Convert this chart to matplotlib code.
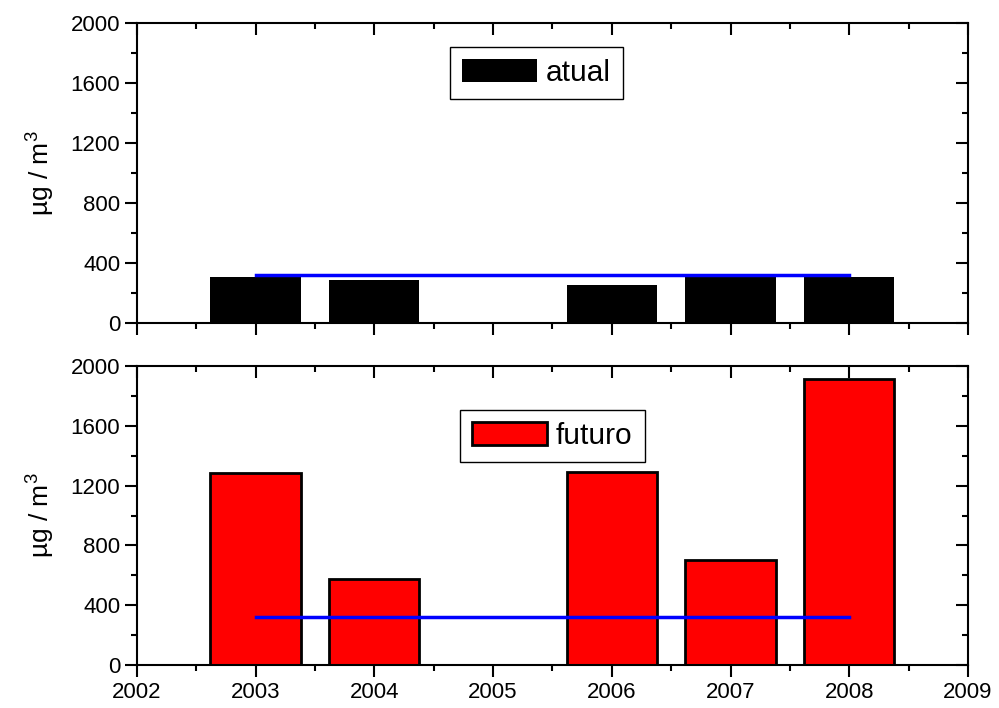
import matplotlib
matplotlib.use("Agg")
import matplotlib.pyplot as plt
from matplotlib.ticker import MultipleLocator

plt.rcParams["font.family"] = ["Liberation Sans", "DejaVu Sans"]
plt.rcParams["mathtext.default"] = "regular"

anos = [2003, 2004, 2006, 2007, 2008]
atual = [305, 287, 253, 305, 305]
futuro = [1283, 573, 1290, 700, 1910]
limite = 320
limite_anos = [2003, 2008]

fig = plt.figure(figsize=(9.99, 7.08), dpi=100)
ax1 = fig.add_axes([0.137, 0.544, 0.832, 0.4235])
ax2 = fig.add_axes([0.137, 0.0607, 0.832, 0.4223])

ax1.bar(anos, atual, width=0.76, color="black", label="atual")
ax2.bar(anos, futuro, width=0.76, color="red", edgecolor="black", linewidth=2, label="futuro")

for ax in (ax1, ax2):
    ax.plot(limite_anos, [limite, limite], color="blue", lw=2.5)
    ax.set_xlim(2002, 2009)
    ax.set_ylim(0, 2000)
    ax.xaxis.set_major_locator(MultipleLocator(1))
    ax.xaxis.set_minor_locator(MultipleLocator(0.5))
    ax.yaxis.set_major_locator(MultipleLocator(400))
    ax.yaxis.set_minor_locator(MultipleLocator(200))
    ax.tick_params(which="both", top=True, right=True, width=1.5, labelsize=16,
                   direction="out")
    ax.tick_params(which="major", length=8.5)
    ax.tick_params(which="minor", length=4.5)
    for s in ax.spines.values():
        s.set_linewidth(1.5)
    ax.set_ylabel("µg / m$^3$", fontsize=19, labelpad=10)

# top/right ticks pointing inward
for ax in (ax1, ax2):
    for t in ax.xaxis.get_major_ticks() + ax.xaxis.get_minor_ticks():
        t.tick2line.set_marker(3)
    for t in ax.yaxis.get_major_ticks() + ax.yaxis.get_minor_ticks():
        t.tick2line.set_marker(0)

ax1.tick_params(labelbottom=False)
ax2.set_xticklabels([str(int(v)) for v in ax2.get_xticks()])

leg_kw = dict(loc="center", fontsize=21.5, fancybox=False, edgecolor="black",
              framealpha=1, handlelength=2.5, handleheight=0.8,
              handletextpad=0.3, borderpad=0.4)
ax1.legend(bbox_to_anchor=(0.481, 0.833), **leg_kw)
ax2.legend(bbox_to_anchor=(0.5, 0.766), **leg_kw)

fig.savefig("out.png", dpi=100)
